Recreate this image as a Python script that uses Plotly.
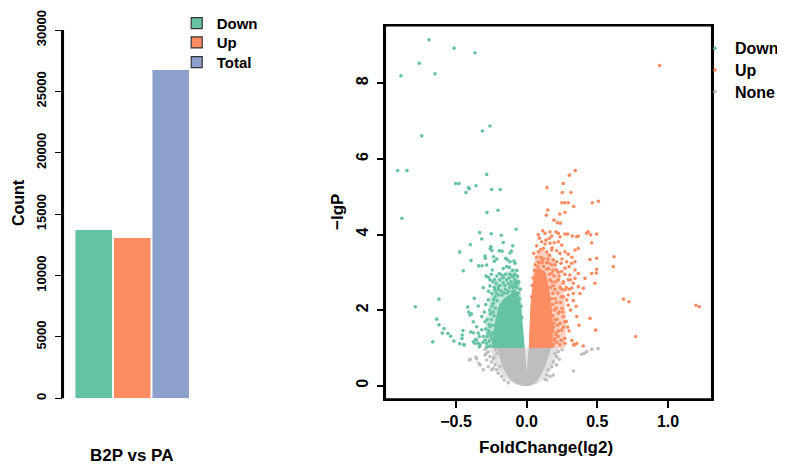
import plotly.graph_objects as go

# ---------------- data ----------------
bar_names = ["Down", "Up", "Total"]
bar_counts = [13700, 13050, 26750]
bar_colors = ["#66C2A5", "#FC8D62", "#8DA0CB"]
group_label = "B2P vs PA"
count_ticks = [0, 5000, 10000, 15000, 20000, 25000, 30000]
count_ticktext = ["0", "5000", "10000", "15000", "20000", "25000", "30000"]

fc_ticks = [-0.5, 0.0, 0.5, 1.0]
fc_ticktext = ["\u22120.5", "0.0", "0.5", "1.0"]
lgp_ticks = [0, 2, 4, 6, 8]

# dense cores (outlines of the solid clouds)
down_core_x = [-0.245, -0.235, -0.215, -0.19, -0.16, -0.12, -0.085, -0.06, -0.045, -0.03, -0.017]
down_core_y = [1.0, 1.4, 1.8, 2.15, 2.3, 2.4, 2.55, 2.4, 2.1, 1.6, 1.0]
up_core_x = [0.018, 0.022, 0.03, 0.045, 0.06, 0.09, 0.13, 0.15, 0.175, 0.185, 0.175]
up_core_y = [1.0, 1.6, 2.1, 2.6, 3.0, 3.1, 3.0, 2.7, 2.0, 1.5, 1.0]
none_core_x = [-0.205, -0.19, -0.17, -0.14, -0.11, -0.07, -0.035, -0.005, 0.03, 0.065, 0.10, 0.13, 0.155, 0.17, 0.018, 0.0, -0.017]
none_core_y = [1.0, 0.75, 0.5, 0.3, 0.15, 0.06, 0.01, 0.0, 0.02, 0.1, 0.3, 0.55, 0.85, 1.0, 1.0, 0.2, 1.0]
# medium-density halos around the cores
down_halo_x = [-0.30, -0.29, -0.26, -0.22, -0.15, -0.08, -0.05, -0.03, -0.017]
down_halo_y = [1.0, 1.6, 2.3, 2.8, 3.0, 3.1, 2.8, 2.0, 1.0]
up_halo_x = [0.018, 0.025, 0.04, 0.06, 0.10, 0.17, 0.22, 0.26, 0.28, 0.27]
up_halo_y = [1.0, 2.0, 2.9, 3.4, 3.6, 3.5, 3.1, 2.5, 1.8, 1.0]
none_halo_x = [-0.26, -0.23, -0.17, -0.08, 0.0, 0.08, 0.15, 0.2, 0.23]
none_halo_y = [1.0, 0.6, 0.25, 0.03, -0.01, 0.05, 0.3, 0.65, 1.0]

down_pts = [
    (-0.691, 9.15), (-0.514, 8.93), (-0.366, 8.81), (-0.760, 8.53), (-0.890, 8.20), (-0.649, 8.25),
    (-0.743, 6.61), (-0.314, 6.74), (-0.260, 6.87), (-0.913, 5.69), (-0.847, 5.69), (-0.283, 5.59),
    (-0.502, 5.35), (-0.479, 5.35), (-0.430, 5.11), (-0.413, 5.24), (-0.406, 5.21), (-0.359, 5.29),
    (-0.248, 5.19), (-0.187, 5.19),
    (-0.883, 4.43), (-0.333, 4.05), (-0.399, 3.73), (-0.474, 3.54), (-0.394, 3.31), (-0.449, 3.04), (-0.340, 3.17),
    (-0.621, 2.29), (-0.788, 2.09), (-0.371, 2.31), (-0.343, 2.11), (-0.418, 2.08), (-0.411, 1.95), (-0.392, 1.90),
    (-0.637, 1.76), (-0.621, 1.61), (-0.585, 1.51), (-0.597, 1.39), (-0.557, 1.38), (-0.538, 1.31), (-0.451, 1.46),
    (-0.456, 1.34), (-0.458, 1.25), (-0.396, 1.42), (-0.378, 1.40), (-0.665, 1.16), (-0.515, 1.18), (-0.474, 1.11),
    (-0.446, 1.08), (-0.378, 1.16), (-0.354, 1.21), (-0.343, 1.12), (-0.335, 1.03), (-0.361, 1.23), (-0.335, 1.30),
    (-0.441, 1.08),
    (-0.281, 4.58), (-0.203, 4.64), (-0.074, 4.14), (-0.251, 4.02), (-0.180, 3.98), (-0.318, 3.88), (-0.166, 3.79),
    (-0.253, 3.68), (-0.246, 3.58), (-0.258, 3.62), (-0.099, 3.70), (-0.109, 3.56), (-0.118, 3.51), (-0.194, 3.57),
    (-0.175, 3.56), (-0.295, 3.43), (-0.293, 3.37), (-0.234, 3.41), (-0.212, 3.35), (-0.229, 3.29), (-0.149, 3.37),
    (-0.137, 3.33), (-0.118, 3.28), (-0.090, 3.30), (-0.083, 3.24), (-0.316, 3.17), (-0.283, 3.19), (-0.243, 3.06),
    (-0.142, 3.15), (-0.123, 3.13), (-0.166, 3.10), (-0.194, 2.97), (-0.307, 2.59), (-0.288, 2.90),
    (-0.272, 2.87), (-0.260, 2.80), (-0.229, 2.81), (-0.212, 2.90), (-0.177, 2.93), (-0.166, 2.86), (-0.189, 2.80),
    (-0.217, 2.71), (-0.201, 2.62), (-0.166, 2.72), (-0.142, 2.80), (-0.118, 2.95), (-0.095, 2.88), (-0.083, 2.80),
    (-0.260, 2.64), (-0.224, 2.53),
    (-0.401, 1.87), (-0.378, 1.69), (-0.354, 1.56), (-0.343, 1.39), (-0.318, 1.48), (-0.307, 1.30), (-0.295, 1.21),
    (-0.330, 1.08), (-0.366, 1.12), (-0.283, 1.12), (-0.272, 1.39), (-0.260, 1.56), (-0.295, 1.69), (-0.318, 1.83),
    (-0.260, 2.00), (-0.236, 2.18), (-0.272, 2.27), (-0.224, 2.35), (-0.248, 2.44),
    (-0.26, 1.05), (-0.25, 1.25), (-0.27, 1.45), (-0.24, 1.6), (-0.23, 1.85), (-0.22, 2.05), (-0.2, 2.4),
    (-0.18, 2.5), (-0.15, 2.55), (-0.12, 2.6), (-0.1, 2.5), (-0.07, 2.6), (-0.09, 2.7), (-0.06, 2.45),
    (-0.13, 2.7), (-0.11, 2.75), (-0.19, 2.65), (-0.21, 2.25), (-0.235, 1.95), (-0.25, 1.75), (-0.245, 1.4),
    (-0.235, 1.15),
    (-0.28, 1.02), (-0.265, 1.18), (-0.255, 1.33), (-0.28, 1.3), (-0.265, 1.62), (-0.255, 1.9), (-0.245, 2.1),
    (-0.235, 2.28), (-0.215, 2.45), (-0.2, 2.55), (-0.175, 2.4), (-0.16, 2.45), (-0.14, 2.45), (-0.13, 2.5),
    (-0.11, 2.65), (-0.095, 2.6), (-0.08, 2.65), (-0.075, 2.75), (-0.065, 2.7), (-0.085, 2.95), (-0.07, 3.05),
    (-0.1, 3.05), (-0.105, 2.9), (-0.125, 2.85), (-0.15, 2.95), (-0.155, 2.65), (-0.23, 2.6), (-0.24, 2.75),
    (-0.25, 2.95), (-0.27, 2.5), (-0.29, 2.15), (-0.3, 1.95), (-0.29, 1.5), (-0.31, 1.15), (-0.28, 1.75),
    (-0.05, 2.3), (-0.045, 2.55), (-0.055, 2.75), (-0.065, 2.9), (-0.04, 2.1), (-0.035, 1.8),
]
up_pts = [
    (0.941, 8.47), (0.144, 5.24), (0.259, 5.35), (0.302, 5.57), (0.344, 5.69), (0.252, 5.11), (0.313, 5.11),
    (0.250, 4.84), (0.271, 4.84), (0.294, 4.84), (0.333, 4.74), (0.149, 4.65), (0.139, 4.51), (0.234, 4.54),
    (0.271, 4.59), (0.193, 4.38), (0.217, 4.31), (0.238, 4.30), (0.464, 4.84), (0.507, 4.88),
    (0.082, 3.99), (0.113, 4.10), (0.130, 4.03), (0.165, 4.07), (0.177, 3.96), (0.207, 4.07), (0.224, 4.03),
    (0.236, 3.94), (0.271, 4.01), (0.290, 4.01), (0.323, 3.96), (0.354, 3.94), (0.365, 3.96), (0.425, 4.03),
    (0.436, 4.07), (0.453, 3.99), (0.495, 4.01), (0.460, 3.78),
    (0.106, 3.81), (0.137, 3.85), (0.165, 3.77), (0.195, 3.78), (0.224, 3.81), (0.248, 3.72),
    (0.082, 3.54), (0.118, 3.63), (0.142, 3.54), (0.177, 3.59), (0.212, 3.57), (0.236, 3.50), (0.271, 3.54),
    (0.294, 3.48), (0.342, 3.59), (0.365, 3.63), (0.448, 3.34), (0.495, 3.37),
    (0.082, 3.28), (0.110, 3.33), (0.153, 3.25), (0.188, 3.33), (0.212, 3.28), (0.243, 3.24), (0.283, 3.28),
    (0.318, 3.24), (0.342, 3.28),
    (0.071, 3.06), (0.106, 3.02), (0.142, 3.08), (0.177, 2.97), (0.212, 3.06), (0.248, 3.02), (0.271, 3.11),
    (0.306, 2.93), (0.342, 3.06), (0.365, 2.97), (0.495, 3.08), (0.460, 2.97), (0.413, 2.84), (0.401, 2.58),
    (0.483, 2.71), (0.493, 2.98),
    (0.130, 2.80), (0.177, 2.75), (0.224, 2.80), (0.259, 2.71), (0.294, 2.80), (0.330, 2.71), (0.342, 2.84),
    (0.271, 2.53), (0.318, 2.58), (0.365, 2.62), (0.330, 2.44), (0.377, 2.44), (0.294, 2.40),
    (0.354, 1.83), (0.448, 1.78), (0.488, 1.47), (0.354, 1.12), (0.271, 1.12), (0.342, 1.08),
    (0.613, 3.15), (0.618, 3.41), (0.686, 2.29), (0.724, 2.22), (0.771, 1.30), (1.198, 2.13), (1.222, 2.09),
    (0.283, 2.27), (0.294, 2.13), (0.330, 1.08), (0.236, 1.08), (0.224, 1.30), (0.248, 1.47), (0.236, 1.65),
    (0.271, 1.69), (0.259, 1.83), (0.224, 1.92),
    (0.19, 1.1), (0.2, 1.25), (0.21, 1.4), (0.19, 1.55), (0.22, 1.6), (0.2, 1.75), (0.23, 1.95), (0.21, 2.05),
    (0.24, 2.2), (0.2, 2.3), (0.22, 2.45), (0.25, 2.55), (0.19, 2.65), (0.26, 2.75), (0.23, 2.9), (0.31, 2.0),
    (0.28, 1.7), (0.3, 1.45), (0.27, 1.25), (0.06, 3.2), (0.05, 3.5), (0.07, 3.7), (0.09, 3.9), (0.1, 3.4),
    (0.16, 3.45), (0.2, 3.2), (0.12, 3.15), (0.18, 3.65), (0.25, 3.35), (0.3, 3.15), (0.32, 3.4), (0.26, 2.35),
    (0.25, 2.05), (0.29, 1.55), (0.32, 1.2), (0.4, 1.05), (0.37, 1.6), (0.33, 2.25), (0.35, 2.1),
    (0.185, 1.05), (0.195, 1.2), (0.205, 1.35), (0.185, 1.45), (0.195, 1.65), (0.185, 1.85), (0.195, 2.0),
    (0.185, 2.15), (0.175, 2.3), (0.185, 2.45), (0.17, 2.6), (0.165, 2.8), (0.16, 2.95), (0.155, 3.1),
    (0.14, 3.25), (0.12, 3.35), (0.09, 3.25), (0.07, 3.4), (0.055, 3.05), (0.045, 2.85), (0.04, 2.65),
    (0.035, 2.35), (0.215, 1.15), (0.225, 1.45), (0.215, 1.75), (0.21, 2.2), (0.2, 2.55), (0.205, 2.75),
    (0.195, 2.9), (0.185, 3.05), (0.175, 3.2), (0.225, 3.0), (0.235, 2.6), (0.245, 2.35), (0.255, 1.95),
    (0.245, 1.2), (0.26, 1.55), (0.1, 3.6), (0.13, 3.75), (0.16, 3.9), (0.08, 3.15), (0.11, 3.25),
    (0.15, 3.35), (0.27, 2.95), (0.28, 2.6), (0.3, 2.55), (0.31, 2.8),
]
none_pts = [
    (-0.399, 0.70), (-0.359, 0.75), (-0.338, 0.59), (-0.406, 0.68), (-0.354, 0.71),
    (-0.295, 0.96), (-0.272, 0.90), (-0.295, 0.81), (-0.260, 0.77), (-0.283, 0.68), (-0.236, 0.72),
    (-0.248, 0.63), (-0.224, 0.55), (-0.272, 0.50), (-0.212, 0.42), (-0.201, 0.33), (-0.177, 0.24),
    (-0.307, 0.42), (-0.248, 0.42), (-0.330, 0.55), (-0.283, 0.86), (-0.236, 0.46),
    (-0.21, 0.85), (-0.22, 0.95), (-0.19, 0.5), (-0.16, 0.15), (-0.13, 0.08), (-0.23, 0.75),
    (0.425, 0.90), (0.460, 0.96), (0.408, 0.86), (0.389, 0.83), (0.330, 0.39), (0.505, 0.98),
    (0.200, 0.86), (0.212, 0.77), (0.188, 0.63), (0.177, 0.50), (0.153, 0.42), (0.142, 0.28),
    (0.130, 0.17), (0.224, 0.90), (0.142, 0.15), (0.165, 0.24), (0.188, 0.28), (0.25, 0.95),
    (0.23, 0.7), (0.21, 0.55),
]
down_x = [p[0] for p in down_pts]
down_y = [p[1] for p in down_pts]
up_x = [p[0] for p in up_pts]
up_y = [p[1] for p in up_pts]
none_x = [p[0] for p in none_pts]
none_y = [p[1] for p in none_pts]

GREEN, ORANGE, GRAY = "#66C2A5", "#FC8D62", "#BEBEBE"
HALO = {GREEN: "rgba(102,194,165,0.4)", ORANGE: "rgba(252,141,98,0.4)", GRAY: "rgba(190,190,190,0.45)"}
FONT = "Liberation Sans, Arial, sans-serif"
W, H = 785, 464
OFF = 8  # page body margin


def px(v):
    return (v - OFF) / W


def py(v):
    return 1 - (v - OFF) / H


fig = go.Figure()

# ---------------- left: bar chart ----------------
fig.add_trace(go.Bar(x=[0, 1, 2], y=bar_counts, marker=dict(color=bar_colors, line=dict(width=0)),
                     width=0.95, showlegend=False, xaxis="x", yaxis="y", hoverinfo="y"))
bar_legends = ["legend", "legend2", "legend3"]
for n, c, lg in zip(bar_names, bar_colors, bar_legends):
    fig.add_trace(go.Scatter(x=[None], y=[None], mode="markers", name=n, legend=lg,
                             marker=dict(symbol="square", size=11, color=c, line=dict(color="#333", width=1.2)),
                             xaxis="x", yaxis="y"))

# ---------------- right: volcano ----------------
for cx, cy, col in ((none_halo_x, none_halo_y, GRAY), (down_halo_x, down_halo_y, GREEN),
                    (up_halo_x, up_halo_y, ORANGE)):
    fig.add_trace(go.Scatter(x=cx, y=cy, mode="lines", fill="toself", fillcolor=HALO[col],
                             line=dict(width=0), showlegend=False, hoverinfo="skip",
                             xaxis="x2", yaxis="y2"))
for cx, cy, col in ((none_core_x, none_core_y, GRAY), (down_core_x, down_core_y, GREEN),
                    (up_core_x, up_core_y, ORANGE)):
    fig.add_trace(go.Scatter(x=cx, y=cy, mode="lines", fill="toself", fillcolor=col,
                             line=dict(color=col, width=1), showlegend=False, hoverinfo="skip",
                             xaxis="x2", yaxis="y2"))
fig.add_trace(go.Scatter(x=down_x, y=down_y, mode="markers", name="Down", legend="legend4",
                         marker=dict(color=GREEN, size=3.6), xaxis="x2", yaxis="y2"))
fig.add_trace(go.Scatter(x=up_x, y=up_y, mode="markers", name="Up", legend="legend5",
                         marker=dict(color=ORANGE, size=3.6), xaxis="x2", yaxis="y2"))
fig.add_trace(go.Scatter(x=none_x, y=none_y, mode="markers", name="None", legend="legend6",
                         marker=dict(color=GRAY, size=3.6), xaxis="x2", yaxis="y2"))

tick_font_l = dict(family=FONT, size=13, color="black", weight="bold")
tick_font_r = dict(family=FONT, size=16, color="black", weight="bold")


def leg(xs, ys, size):
    return dict(x=px(xs), y=py(ys), xanchor="left", yanchor="middle", bgcolor="rgba(0,0,0,0)",
                borderwidth=0, font=dict(family=FONT, size=size, color="black", weight="bold"))


fig.update_layout(
    width=W, height=H, margin=dict(l=0, r=0, t=0, b=0, autoexpand=False),
    paper_bgcolor="white", plot_bgcolor="white",
    font=dict(family=FONT, color="black"),
    xaxis=dict(domain=[px(63.3), px(200)], range=[-0.79, 2.761], visible=True, showticklabels=False,
               ticks="", showline=False, showgrid=False, zeroline=False, automargin=False),
    yaxis=dict(domain=[py(398.3), py(30)], range=[0, 30000], tickvals=count_ticks, ticktext=count_ticktext,
               ticks="outside", ticklen=7, tickwidth=1.3, tickcolor="black",
               showline=True, linewidth=1.5, linecolor="black", showgrid=False, zeroline=False,
               tickangle=-90, tickfont=tick_font_l, ticklabelstandoff=3, automargin=False),
    xaxis2=dict(domain=[px(385.3), px(711.7)], range=[-1.0007, 1.3093], anchor="y2",
                tickvals=fc_ticks, ticktext=fc_ticktext,
                ticks="outside", ticklen=7, tickwidth=1.5, tickcolor="black",
                showline=True, mirror=True, linewidth=1.5, linecolor="black",
                showgrid=False, zeroline=False, tickfont=tick_font_r, ticklabelstandoff=0, automargin=False),
    yaxis2=dict(domain=[py(399), py(25.7)], range=[-0.352, 9.524], anchor="x2",
                tickvals=lgp_ticks, ticks="outside", ticklen=7, tickwidth=1.5, tickcolor="black",
                showline=True, mirror=True, linewidth=1.5, linecolor="black",
                showgrid=False, zeroline=False, tickangle=-90, tickfont=tick_font_r, ticklabelstandoff=2,
                automargin=False),
    legend=leg(176.7, 23.3, 15),
    legend2=leg(176.7, 42.7, 15),
    legend3=leg(176.7, 62.3, 15),
    legend4=leg(695, 48.3, 16),
    legend5=leg(695, 70, 16),
    legend6=leg(695, 91.7, 16),
    showlegend=True,
)

# plot frame of the volcano panel and the left count axis line
fig.add_shape(type="rect", xref="x2 domain", yref="y2 domain", x0=0, x1=1, y0=0, y1=1,
              line=dict(color="black", width=1.5), layer="above")
fig.add_shape(type="line", xref="x domain", yref="y domain", x0=0, x1=0, y0=0, y1=1,
              line=dict(color="black", width=1.5), layer="above")


def ann(text, xs, ys, size, angle=0):
    fig.add_annotation(text=text, x=px(xs), y=py(ys), xref="paper", yref="paper", showarrow=False,
                       xanchor="center", yanchor="middle", textangle=angle,
                       font=dict(family=FONT, size=size, color="black", weight="bold"))


ann("Count", 18, 203, 16, -90)
ann(group_label, 131, 455, 17)
ann("\u2212lgP", 337, 212, 17, -90)
ann("FoldChange(lg2)", 546, 447, 17)

fig.write_html("out.html")
